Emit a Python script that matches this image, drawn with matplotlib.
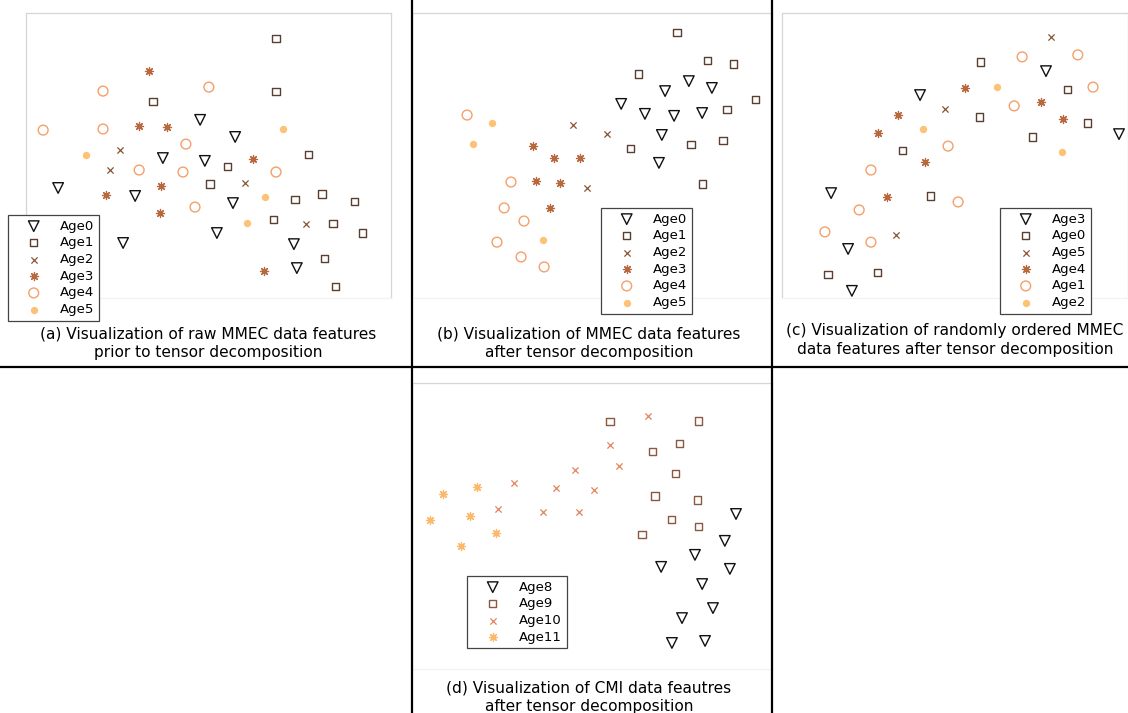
import matplotlib
matplotlib.use('Agg')
import matplotlib.pyplot as plt
from matplotlib.lines import Line2D

W, H, DPI = 1128, 713, 100

# --- 2D feature embeddings (normalised to 0-100 per panel) ---
# (a) raw MMEC features
a_age0_x = [47.7, 57.3, 37.5, 49.0, 8.8, 29.9, 56.7, 52.3, 26.6, 73.4, 74.2]
a_age0_y = [62.5, 56.5, 49.1, 48.1, 38.6, 35.8, 33.3, 22.8, 19.3, 18.9, 10.5]
a_age1_x = [68.5, 68.5, 34.8, 77.3, 55.3, 50.4, 81.1, 73.7, 89.9, 67.9, 84.1, 92.3, 81.9, 84.7]
a_age1_y = [91.2, 72.6, 68.8, 50.5, 46.3, 40.0, 36.5, 34.7, 33.7, 27.7, 26.0, 22.8, 14.0, 3.9]
a_age2_x = [25.8, 23.0, 60.0, 76.7]
a_age2_y = [51.9, 44.9, 40.4, 26.0]
a_age3_x = [33.7, 31.0, 38.6, 62.2, 37.0, 21.9, 36.7, 65.2]
a_age3_y = [79.6, 60.4, 60.0, 48.8, 39.3, 36.1, 29.8, 9.5]
a_age4_x = [21.1, 50.1, 4.7, 21.1, 43.8, 31.0, 43.0, 68.5, 46.3]
a_age4_y = [72.6, 74.0, 58.9, 59.3, 54.0, 44.9, 44.2, 44.2, 31.9]
a_age5_x = [70.4, 16.4, 65.5, 60.5]
a_age5_y = [59.3, 50.2, 35.4, 26.3]

# (b) MMEC features after tensor decomposition
b_age0_x = [58.1, 70.3, 76.9, 83.3, 64.7, 72.8, 80.6, 69.4, 68.6]
b_age0_y = [68.1, 72.6, 76.1, 73.7, 64.6, 63.9, 64.9, 57.2, 47.4]
b_age1_x = [73.6, 82.2, 89.4, 62.8, 95.3, 87.5, 86.4, 77.5, 60.8, 80.6]
b_age1_y = [93.0, 83.2, 82.1, 78.6, 69.8, 66.3, 55.4, 53.7, 52.3, 40.0]
b_age2_x = [44.7, 54.2, 48.6]
b_age2_y = [60.7, 57.5, 38.6]
b_age3_x = [33.6, 39.4, 46.7, 34.4, 41.1, 38.3]
b_age3_y = [53.3, 49.1, 49.1, 41.1, 40.4, 31.6]
b_age4_x = [15.3, 27.5, 25.6, 31.1, 23.6, 30.3, 36.7]
b_age4_y = [64.2, 40.7, 31.6, 27.0, 19.6, 14.4, 10.9]
b_age5_x = [22.2, 16.9, 36.4]
b_age5_y = [61.4, 54.0, 20.4]

# (c) randomly ordered MMEC features after tensor decomposition
c_age3_x = [76.3, 39.9, 97.4, 14.2, 19.1, 20.2]
c_age3_y = [79.6, 71.2, 57.5, 36.8, 17.2, 2.5]
c_age0_x = [57.5, 82.4, 57.2, 88.4, 72.5, 34.7, 42.8, 13.3, 27.7]
c_age0_y = [82.8, 73.3, 63.5, 61.4, 56.5, 51.6, 35.8, 8.1, 9.1]
c_age5_x = [77.7, 47.1, 32.9]
c_age5_y = [91.6, 66.3, 22.1]
c_age4_x = [52.9, 74.9, 33.5, 81.2, 27.7, 41.3, 30.3]
c_age4_y = [73.7, 68.8, 64.2, 62.8, 57.9, 47.7, 35.4]
c_age1_x = [69.4, 85.5, 89.9, 67.1, 48.0, 25.7, 50.9, 22.3, 12.4, 25.7]
c_age1_y = [84.6, 85.3, 74.0, 67.4, 53.3, 44.9, 33.7, 30.9, 23.2, 19.6]
c_age2_x = [62.1, 40.8, 80.9]
c_age2_y = [74.0, 59.3, 51.2]

# (d) CMI features after tensor decomposition
d_age8_x = [90.0, 86.9, 78.6, 69.2, 88.3, 80.6, 83.6, 75.0, 72.2, 81.4]
d_age8_y = [54.2, 44.8, 39.9, 35.7, 35.0, 29.7, 21.3, 17.8, 9.1, 9.8]
d_age9_x = [55.0, 79.7, 74.2, 66.7, 73.1, 67.5, 79.2, 72.2, 79.7, 63.9]
d_age9_y = [86.4, 86.7, 79.0, 75.9, 68.2, 60.5, 59.1, 52.4, 49.7, 46.9]
d_age10_x = [65.6, 55.0, 57.5, 45.3, 28.3, 40.0, 50.6, 23.9, 36.4, 46.4]
d_age10_y = [88.5, 78.3, 71.0, 69.6, 65.0, 63.3, 62.6, 55.9, 54.9, 54.9]
d_age11_x = [18.1, 8.6, 16.1, 5.0, 23.3, 13.6]
d_age11_y = [63.6, 61.2, 53.5, 52.1, 47.6, 43.0]

# marker styles per rank in the legend (shared look across panels)
styles = [
    dict(marker='v', s=58, facecolors='none', edgecolors='#111111', linewidths=1.0),
    dict(marker='s', s=26, facecolors='none', edgecolors='#5a3e30', linewidths=1.0),
    dict(marker='x', s=20, color='#8b5536', linewidths=0.9),
    dict(marker=(8, 2, 0), s=34, color='#b8683c', linewidths=0.9),
    dict(marker='o', s=50, facecolors='none', edgecolors='#f4a06a', linewidths=1.0),
    dict(marker='o', s=28, color='#fdc275', linewidths=0),
]
styles_d = [
    dict(marker='v', s=58, facecolors='none', edgecolors='#111111', linewidths=1.0),
    dict(marker='s', s=26, facecolors='none', edgecolors='#8a5a40', linewidths=1.0),
    dict(marker='x', s=20, color='#e0845a', linewidths=0.9),
    dict(marker=(8, 2, 0), s=34, color='#fdb86a', linewidths=0.9),
]

fig = plt.figure(figsize=(W / DPI, H / DPI), dpi=DPI)
fig.patch.set_facecolor('white')


def px_axes(l, t, r, b):
    return fig.add_axes([l / W, 1 - b / H, (r - l) / W, (b - t) / H])


def style_frame(ax):
    ax.set_xlim(0, 100)
    ax.set_ylim(0, 100)
    ax.set_xticks([])
    ax.set_yticks([])
    for side in ['top', 'left', 'right']:
        ax.spines[side].set_color('#d6d6d6')
        ax.spines[side].set_linewidth(0.9)
    ax.spines['bottom'].set_color('#f2f2f2')
    ax.spines['bottom'].set_linewidth(0.9)


def draw_panel(ax, groups, labels, sty, legend_xy):
    style_frame(ax)
    for (xs, ys), lab, st in zip(groups, labels, sty):
        ax.scatter(xs, ys, label=lab, **st)
    leg = ax.legend(loc='upper left', bbox_to_anchor=(legend_xy[0] / W, 1 - legend_xy[1] / H),
                    bbox_transform=fig.transFigure, fontsize=9.5, frameon=True,
                    fancybox=False, edgecolor='#444444', framealpha=1,
                    labelspacing=0.28, handletextpad=0.4, borderpad=0.35,
                    handlelength=3.2, borderaxespad=0)
    leg.get_frame().set_linewidth(0.9)
    leg.set_zorder(5)


ax_a = px_axes(26, 13, 391, 298)
draw_panel(ax_a,
           [(a_age0_x, a_age0_y), (a_age1_x, a_age1_y), (a_age2_x, a_age2_y),
            (a_age3_x, a_age3_y), (a_age4_x, a_age4_y), (a_age5_x, a_age5_y)],
           ['Age0', 'Age1', 'Age2', 'Age3', 'Age4', 'Age5'], styles, (8, 215))

ax_b = px_axes(412, 13, 772, 298)
draw_panel(ax_b,
           [(b_age0_x, b_age0_y), (b_age1_x, b_age1_y), (b_age2_x, b_age2_y),
            (b_age3_x, b_age3_y), (b_age4_x, b_age4_y), (b_age5_x, b_age5_y)],
           ['Age0', 'Age1', 'Age2', 'Age3', 'Age4', 'Age5'], styles, (601, 208))

ax_c = px_axes(782, 13, 1128, 298)
draw_panel(ax_c,
           [(c_age3_x, c_age3_y), (c_age0_x, c_age0_y), (c_age5_x, c_age5_y),
            (c_age4_x, c_age4_y), (c_age1_x, c_age1_y), (c_age2_x, c_age2_y)],
           ['Age3', 'Age0', 'Age5', 'Age4', 'Age1', 'Age2'], styles, (1000, 208))

ax_d = px_axes(412, 383, 772, 669)
draw_panel(ax_d,
           [(d_age8_x, d_age8_y), (d_age9_x, d_age9_y),
            (d_age10_x, d_age10_y), (d_age11_x, d_age11_y)],
           ['Age8', 'Age9', 'Age10', 'Age11'], styles_d, (467, 576))

# captions under each panel
cap_kw = dict(ha='center', va='center', fontsize=11.1, linespacing=1.28)
fig.text(208 / W, 1 - 343 / H, '(a) Visualization of raw MMEC data features\nprior to tensor decomposition', **cap_kw)
fig.text(589 / W, 1 - 343 / H, '(b) Visualization of MMEC data features\nafter tensor decomposition', **cap_kw)
fig.text(955 / W, 1 - 340 / H, '(c) Visualization of randomly ordered MMEC\ndata features after tensor decomposition', **cap_kw)
fig.text(589 / W, 1 - 697 / H, '(d) Visualization of CMI data feautres\nafter tensor decomposition', **cap_kw)

# black separators between sub-figures
sep_kw = dict(color='black', linewidth=1.6, transform=fig.transFigure, zorder=10)
fig.add_artist(Line2D([0, 1], [1 - 367 / H, 1 - 367 / H], **sep_kw))
fig.add_artist(Line2D([412 / W, 412 / W], [0, 1], **sep_kw))
fig.add_artist(Line2D([772 / W, 772 / W], [0, 1], **sep_kw))

fig.savefig('out.png', dpi=DPI)
